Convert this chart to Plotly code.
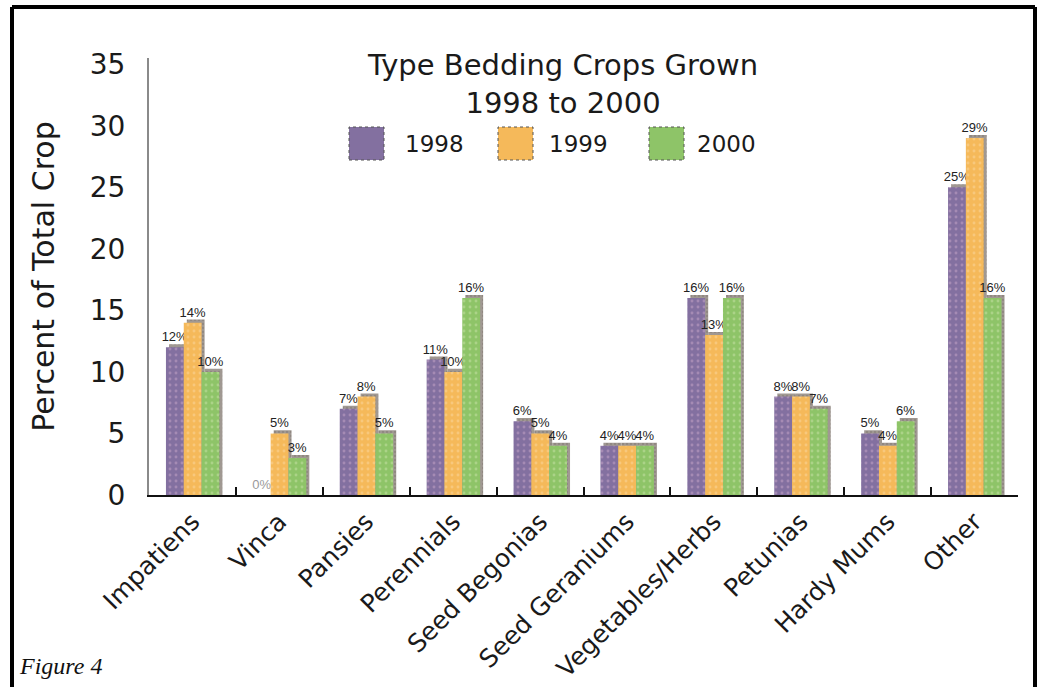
import plotly.graph_objects as go

# Data
categories = ["Impatiens", "Vinca", "Pansies", "Perennials", "Seed Begonias",
              "Seed Geraniums", "Vegetables/Herbs", "Petunias", "Hardy Mums", "Other"]
years = ["1998", "1999", "2000"]
pct_1998 = [12, 0, 7, 11, 6, 4, 16, 8, 5, 25]
pct_1999 = [14, 5, 8, 10, 5, 4, 13, 8, 4, 29]
pct_2000 = [10, 3, 5, 16, 4, 4, 16, 7, 6, 16]
y_ticks = [0, 5, 10, 15, 20, 25, 30, 35]

series = [pct_1998, pct_1999, pct_2000]
colors = ["#8370a0", "#f5b95a", "#8ec468"]
dot_colors = ["#c7a6c8", "#fbd7a0", "#c8e2a8"]
shadow_color = "#a09892"

# Page geometry (pixels)
W, H = 1047, 687
L, R, T, B = 149, 1018, 58, 495


def px_x(px):
    return (px - L) / (R - L)


def px_y(py):
    return (B - py) / (B - T)


bar_w = 0.205
offsets = [-0.305, -0.1, 0.105]
shadow_dx = 0.035
shadow_dy = 0.25

fig = go.Figure()

# drop shadows behind each bar
for vals, off in zip(series, offsets):
    fig.add_trace(go.Bar(
        x=categories,
        y=[v + shadow_dy if v > 0 else 0 for v in vals],
        width=bar_w, offset=off + shadow_dx,
        marker=dict(color=shadow_color, line=dict(width=0),
                    pattern=dict(shape=".", fgcolor="#7d7670", size=4, solidity=0.25)),
        showlegend=False, hoverinfo="skip",
    ))

# main bars with value labels
for vals, off, col, dcol, yr in zip(series, offsets, colors, dot_colors, years):
    fig.add_trace(go.Bar(
        x=categories, y=vals, name=yr,
        width=bar_w, offset=off,
        marker=dict(color=col, line=dict(width=0),
                    pattern=dict(shape=".", fgcolor=dcol, size=6, solidity=0.18)),
        text=[f"{v}%" for v in vals],
        textposition="outside",
        textfont=dict(family="Liberation Sans Narrow, Liberation Sans, Arial",
                      size=13, color=["#9a9a9a" if v == 0 else "#222222" for v in vals]),
        cliponaxis=False,
        showlegend=False,
    ))

shapes = []
annotations = []

# legend swatches and labels
legend_sq = [(349, 384), (498, 533), (649, 684)]
legend_tx = [403, 547, 695]
for (x0, x1), tx, col, dcol, yr in zip(legend_sq, legend_tx, colors, dot_colors, years):
    shapes.append(dict(type="rect", xref="paper", yref="paper",
                       x0=px_x(x0), x1=px_x(x1), y0=px_y(160), y1=px_y(127),
                       fillcolor=col, line=dict(color="#555555", width=1, dash="dot")))
    annotations.append(dict(text=yr, xref="paper", yref="paper",
                            x=px_x(tx), y=px_y(144), xanchor="left", yanchor="middle",
                            showarrow=False,
                            font=dict(family="DejaVu Sans", size=23, color="#1a1a1a")))

# chart title
annotations.append(dict(text="Type Bedding Crops Grown<br>1998 to 2000",
                        xref="paper", yref="paper", x=px_x(562), y=px_y(84),
                        xanchor="center", yanchor="middle", showarrow=False,
                        font=dict(family="DejaVu Sans", size=29, color="#1a1a1a")))

# figure caption
annotations.append(dict(text="<i>Figure 4</i>", xref="paper", yref="paper",
                        x=px_x(17), y=px_y(666), xanchor="left", yanchor="middle",
                        showarrow=False,
                        font=dict(family="Liberation Serif", size=24, color="#111111")))

# frame around the figure (open at the bottom)
frame_l, frame_r, frame_t, frame_b = 12, 1035, 7, 700
for x0, y0, x1, y1 in [(frame_l, frame_b, frame_l, frame_t),
                       (frame_l, frame_t, frame_r, frame_t),
                       (frame_r, frame_t, frame_r, frame_b)]:
    shapes.append(dict(type="line", xref="paper", yref="paper",
                       x0=px_x(x0), y0=px_y(y0), x1=px_x(x1), y1=px_y(y1),
                       line=dict(color="#000000", width=4)))

fig.update_layout(
    width=W, height=H,
    margin=dict(l=L, r=W - R, t=T, b=H - B, pad=0, autoexpand=False),
    paper_bgcolor="white", plot_bgcolor="white",
    barmode="overlay",
    showlegend=False,
    shapes=shapes, annotations=annotations,
    font=dict(family="DejaVu Sans", color="#1a1a1a"),
)
fig.update_traces(constraintext="none")

fig.update_xaxes(
    automargin=False,
    showline=True, linecolor="#111111", linewidth=2,
    ticks="inside", tickson="boundaries", ticklen=8, tickwidth=2, tickcolor="#111111",
    tickangle=-45, tickfont=dict(family="DejaVu Sans", size=25, color="#1a1a1a"),
    showgrid=False, zeroline=False,
)
fig.update_yaxes(
    automargin=False,
    range=[0, 35.5], tickvals=y_ticks, ticks="",
    showline=True, linecolor="#8a8a8a", linewidth=2,
    showgrid=False, zeroline=False,
    tickfont=dict(family="DejaVu Sans", size=28, color="#1a1a1a"),
    ticklabelstandoff=16,
    title=dict(text="Percent of Total Crop", standoff=26,
               font=dict(family="DejaVu Sans", size=30, color="#1a1a1a")),
)

fig.write_html("out.html")
